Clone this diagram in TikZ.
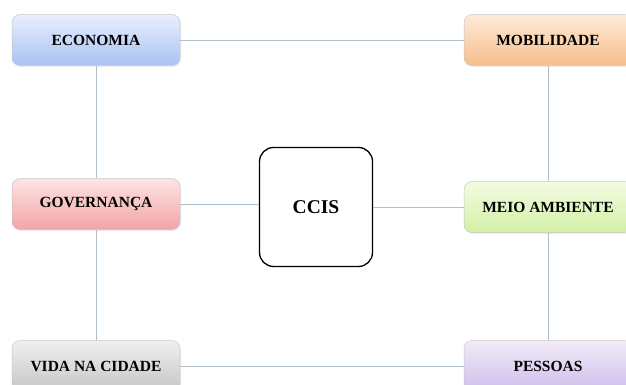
\documentclass[tikz,border=0pt]{standalone}
\usepackage{fontspec}
\setmainfont{Liberation Serif}
\usetikzlibrary{shadows}

\definecolor{linkgray}{HTML}{B0BFC9}
\definecolor{ecotop}{HTML}{E8EFFC}
\definecolor{ecobot}{HTML}{A8C2F3}
\definecolor{mobtop}{HTML}{FDEBD9}
\definecolor{mobbot}{HTML}{F8BD8A}
\definecolor{govtop}{HTML}{FCE4E4}
\definecolor{govbot}{HTML}{F2A4A6}
\definecolor{ambtop}{HTML}{F4FBE2}
\definecolor{ambbot}{HTML}{D3EFA6}
\definecolor{vidtop}{HTML}{EFEFEF}
\definecolor{vidbot}{HTML}{C6C6C6}
\definecolor{pestop}{HTML}{F2ECF9}
\definecolor{pesbot}{HTML}{CDBDEA}

\begin{document}
\begin{tikzpicture}[x=1pt, y=1pt]
				\tikzstyle{every node}=[align=center, inner sep=1pt, font=\bfseries\fontsize{15.5}{17}\selectfont]
				\tikzstyle{topic}=[rectangle, rounded corners=8pt, minimum width=168pt, minimum height=51pt, draw=black!22, line width=0.5pt, drop shadow={opacity=0.15, shadow xshift=1pt, shadow yshift=-1.5pt}]
				\tikzstyle{hub}=[rectangle, rounded corners=14pt, minimum width=113pt, minimum height=119pt, draw=black, line width=1.3pt, fill=white, font=\bfseries\fontsize{19.5}{22}\selectfont]
				\tikzstyle{link}=[draw=linkgray, line width=0.7pt]

				\useasboundingbox (0, 0) rectangle (626, -385);
				\clip (0, 0) rectangle (626, -385);

				\node[topic, top color=ecotop, bottom color=ecobot] (ECO) at (96, -40) {ECONOMIA};
				\node[topic, top color=mobtop, bottom color=mobbot] (MOB) at (548, -40) {MOBILIDADE};
				\node[topic, top color=govtop, bottom color=govbot] (GOV) at (96, -204) {GOVERNANÇA};
				\node[hub] (CCIS) at (316, -207) {CCIS};
				\node[topic, top color=ambtop, bottom color=ambbot] (AMB) at (548, -207) {MEIO AMBIENTE};
				\node[topic, top color=vidtop, bottom color=vidbot] (VID) at (96, -366) {VIDA NA CIDADE};
				\node[topic, top color=pestop, bottom color=pesbot] (PES) at (548, -366) {PESSOAS};

				\draw[link]  (ECO) to (MOB);
				\draw[link]  (ECO) to (GOV);
				\draw[link]  (GOV) to (VID);
				\draw[link]  (GOV.east) to (GOV.east -| CCIS.west);
				\draw[link]  (CCIS) to (AMB);
				\draw[link]  (MOB) to (AMB);
				\draw[link]  (AMB) to (PES);
				\draw[link]  (VID) to (PES);

			\end{tikzpicture}
\end{document}
